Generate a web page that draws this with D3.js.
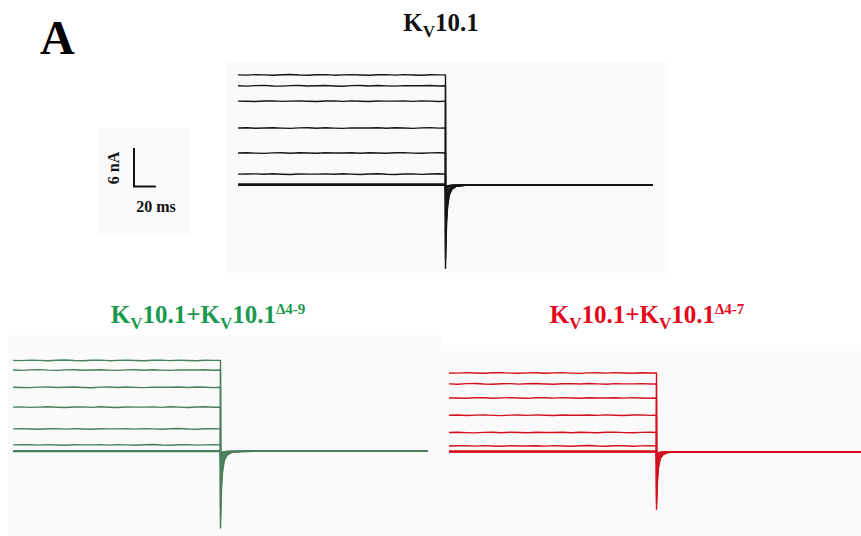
<!DOCTYPE html>
<html>
<head>
<meta charset="utf-8">
<script src="https://cdn.jsdelivr.net/npm/d3@7"></script>
<style>
  html, body { margin: 0; padding: 0; background: #ffffff; }
  svg { display: block; }
  text { font-family: "Liberation Serif", "Times New Roman", serif; font-weight: bold; }
</style>
</head>
<body>
<svg id="chart" width="861" height="536"></svg>
<script>
// ---- Recording protocol (ms) ----
const sweepEnd = 380;      // total sweep length
const stepEnd = 190;       // end of depolarising step
const stepTimes = [0, 8, 16, 24, 32, 40, 48, 56, 64, 72, 80, 88, 96, 104, 112, 120, 128, 136, 144, 152, 160, 168, 176, 184, 190];
// small ripple on the step currents (nA), one value per stepTimes sample
const stepRipple = [0, 0.04, -0.03, 0.05, 0.0, -0.05, 0.03, 0.06, -0.02, -0.05, 0.02, 0.04, -0.04, 0.01, 0.05, -0.02, -0.06, 0.02, 0.04, -0.03, 0.05, -0.01, -0.05, 0.03, 0];
// tail after repolarisation: times (ms) and fraction of peak inward current
const tailTimes = [190, 190.5, 191, 192, 193.5, 196, 200, 208, 220, 380];
const tailShape = [1, 0.7, 0.45, 0.25, 0.12, 0.05, 0.015, 0.003, 0, 0];

// ---- Kv10.1 ----
const kvLevels = [17.2, 15.5, 13.1, 8.9, 5.0, 1.7, 0.15, 0.05, -0.05];
const kvTailPeaks = [13.0, 11.5, 10.0, 7.5, 5.0, 2.5, 1.2, 0.8, 0.5];

// ---- Kv10.1 + Kv10.1Δ4-9 ----
const d49Levels = [14.2, 12.7, 10.0, 6.9, 3.5, 1.0, 0.1, 0.0, -0.05];
const d49TailPeaks = [12.0, 10.5, 9.0, 6.5, 4.0, 2.0, 1.0, 0.6, 0.4];

// ---- Kv10.1 + Kv10.1Δ4-7 ----
const d47Levels = [12.3, 10.6, 8.4, 5.7, 3.0, 0.9, 0.1, 0.0, -0.05];
const d47TailPeaks = [9.0, 8.0, 7.0, 5.5, 4.0, 2.2, 1.2, 0.8, 0.5];

// ---- Scale bar ----
const scaleBarTime = 20;   // ms
const scaleBarCurrent = 6; // nA

const svg = d3.select("#chart");
const pxPerMs = 415 / sweepEnd;
const pxPerNA = 6.4;

function sweepPoints(level, peak, ripple) {
  const pts = stepTimes.map((t, i) => {
    const r = ripple && i > 0 && t !== stepEnd ? stepRipple[(i + ripple) % stepRipple.length] : 0;
    return [t, level + r];
  });
  tailTimes.forEach((t, i) => pts.push([t, -peak * tailShape[i]]));
  return pts;
}

function drawPanel(cfg) {
  const g = svg.append("g");
  g.append("rect")
    .attr("x", cfg.bg[0]).attr("y", cfg.bg[1])
    .attr("width", cfg.bg[2]).attr("height", cfg.bg[3])
    .attr("fill", "#fafafa");
  const x = d3.scaleLinear().domain([0, sweepEnd]).range([cfg.x0, cfg.x0 + sweepEnd * pxPerMs]);
  const y = d3.scaleLinear().domain([0, 1]).range([cfg.base, cfg.base - pxPerNA]);
  const line = d3.line().x(d => x(d[0])).y(d => y(d[1]));
  cfg.levels.forEach((lv, i) => {
    g.append("path")
      .attr("d", line(sweepPoints(lv, cfg.peaks[i], Math.abs(lv) > 0.5 ? i * 3 + 1 : 0)))
      .attr("fill", "none")
      .attr("stroke", cfg.stroke)
      .attr("stroke-width", 1.4)
      .attr("stroke-linejoin", "round");
  });
  return { x, y };
}

function drawTitle(x, y, color, parts, sup, size) {
  const t = svg.append("text")
    .attr("x", x).attr("y", y)
    .attr("text-anchor", "middle")
    .attr("fill", color)
    .attr("font-size", size);
  parts.forEach(part => {
    t.append("tspan").text(part[0]);
    t.append("tspan").text(part[1]).attr("font-size", size * 0.68).attr("dy", size * 0.22);
    t.append("tspan").text(part[2]).attr("dy", -size * 0.22);
  });
  if (sup) {
    t.append("tspan").text(sup).attr("font-size", size * 0.6).attr("dy", -size * 0.38);
  }
}

// panels
drawPanel({ bg: [225, 62, 443, 211], x0: 238, base: 185, levels: kvLevels, peaks: kvTailPeaks, stroke: "#161616" });
drawPanel({ bg: [8, 335, 434, 201], x0: 13, base: 451.3, levels: d49Levels, peaks: d49TailPeaks, stroke: "#4a7f5c" });
drawPanel({ bg: [442, 345, 419, 191], x0: 449, base: 451.7, levels: d47Levels, peaks: d47TailPeaks, stroke: "#d3101d" });

// scale bar
const sb = svg.append("g");
sb.append("rect").attr("x", 98).attr("y", 128).attr("width", 92).attr("height", 107).attr("fill", "#fafafa");
const sbX = 134, sbY = 186.5;
sb.append("path")
  .attr("d", `M${sbX},${sbY - scaleBarCurrent * pxPerNA}V${sbY}H${sbX + scaleBarTime * pxPerMs}`)
  .attr("fill", "none").attr("stroke", "#111").attr("stroke-width", 2);
sb.append("text").attr("transform", `translate(119,168) rotate(-90)`)
  .attr("text-anchor", "middle").attr("font-size", 16).attr("fill", "#111")
  .text(`${scaleBarCurrent} nA`);
sb.append("text").attr("x", 156).attr("y", 212)
  .attr("text-anchor", "middle").attr("font-size", 16).attr("fill", "#111")
  .text(`${scaleBarTime} ms`);

// titles
svg.append("text").attr("x", 40).attr("y", 54).attr("font-size", 48).attr("fill", "#000").text("A");
drawTitle(441, 31, "#111", [["K", "V", "10.1"]], null, 25);
drawTitle(208, 323, "#1a9a50", [["K", "V", "10.1+"], ["K", "V", "10.1"]], "Δ4-9", 25);
drawTitle(647, 323, "#e5061b", [["K", "V", "10.1+"], ["K", "V", "10.1"]], "Δ4-7", 25);
</script>
</body>
</html>
